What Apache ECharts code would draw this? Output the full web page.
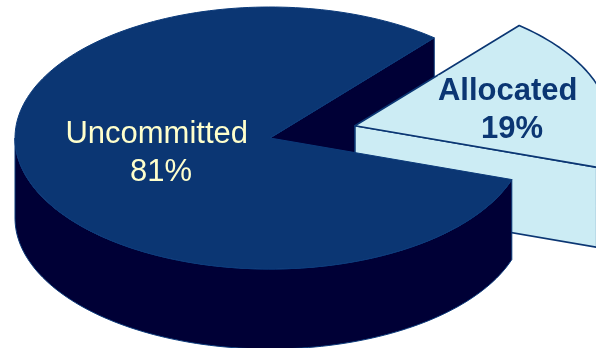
<!DOCTYPE html>
<html>
<head>
<meta charset="utf-8">
<script src="https://cdn.jsdelivr.net/npm/echarts@6/dist/echarts.min.js"></script>
<style>
  html, body { margin: 0; padding: 0; background: #ffffff; }
  #chart { width: 596px; height: 348px; }
</style>
</head>
<body>
<div id="chart"></div>
<script>
// Funding split
const categories = ['Uncommitted', 'Allocated'];
const values = [81, 19];

// Look of each slice (top face, side walls, outline, label)
const sliceStyles = [
  { top: '#0B3673', side: '#000036', edge: '#0B3A7A', edgeWidth: 1, text: '#FFFFCC', weight: 'normal',
    explode: 0, labelAt: 0.444, labelDy: 0, labelBg: null },
  { top: '#CCECF4', side: '#CCECF4', edge: '#0B3673', edgeWidth: 1.6, text: '#0B3673', weight: 'bold',
    explode: 0.346, labelAt: 0.64, labelDy: 7, labelBg: '#CCECF4' }
];

// Tilted pie: elliptical top face plus a vertical rim of the given depth
const pie = { cx: 270, cy: 138, rx: 255, ry: 131, depth: 80, startAngle: 18.5 };

const total = values.reduce((a, b) => a + b, 0);
const cumulative = values.map((_, i) => values.slice(0, i).reduce((a, b) => a + b, 0));
const rad = d => d * Math.PI / 180;

// Points along the rim ellipse between two angles (degrees, clockwise on screen)
function arcPoints(ox, oy, a0, a1, dz) {
  const n = Math.max(2, Math.ceil(Math.abs(a1 - a0) / 1.5));
  const pts = [];
  for (let k = 0; k <= n; k++) {
    const a = rad(a0 + (a1 - a0) * k / n);
    pts.push([ox + pie.rx * Math.cos(a), oy + pie.ry * Math.sin(a) + dz]);
  }
  return pts;
}

function renderSlice(params, api) {
  const i = params.dataIndex;
  const v = api.value(0);
  const before = api.value(1);
  const s = sliceStyles[i];
  const a0 = pie.startAngle + 360 * before / total;
  const a1 = a0 + 360 * v / total;
  const mid = (a0 + a1) / 2;
  const ox = pie.cx + s.explode * pie.rx * Math.cos(rad(mid));
  const oy = pie.cy + s.explode * pie.ry * Math.sin(rad(mid));
  const D = pie.depth;
  const edge = { stroke: s.edge, lineWidth: s.edgeWidth, lineJoin: 'round' };
  const children = [];

  // Cut faces that turn toward the viewer, drawn back to front
  [[a0, -1], [a1, 1]].forEach(([a, sgn]) => {
    if (sgn * Math.cos(rad(a)) > 0) {
      const rim = [ox + pie.rx * Math.cos(rad(a)), oy + pie.ry * Math.sin(rad(a))];
      children.push({
        type: 'polygon',
        z2: 100 + Math.round((oy + rim[1]) / 2),
        shape: { points: [[ox, oy], rim, [rim[0], rim[1] + D], [ox, oy + D]] },
        style: Object.assign({ fill: s.side }, edge)
      });
    }
  });

  // Outer rim wall on the front half of the ellipse
  for (let k = -1; k <= 2; k++) {
    const lo = Math.max(a0, 360 * k);
    const hi = Math.min(a1, 360 * k + 180);
    if (hi > lo) {
      const pts = arcPoints(ox, oy, lo, hi, 0).concat(arcPoints(ox, oy, hi, lo, D));
      children.push({
        type: 'polygon', z2: 1000,
        shape: { points: pts },
        style: Object.assign({ fill: s.side }, edge)
      });
    }
  }

  // Top face
  children.push({
    type: 'polygon', z2: 2000,
    shape: { points: [[ox, oy]].concat(arcPoints(ox, oy, a0, a1, 0)) },
    style: Object.assign({ fill: s.top }, edge)
  });

  // Category and percentage label
  const pct = Math.round(v / total * 100) + '%';
  const font = { fontSize: 31, fontFamily: 'Liberation Sans, Arial, sans-serif',
                 fontWeight: s.weight, fill: s.text, lineHeight: 38 };
  const tok = Object.assign({}, font, s.labelBg ? { backgroundColor: s.labelBg } : {});
  children.push({
    type: 'text', z2: 3000,
    x: ox + s.labelAt * pie.rx * Math.cos(rad(mid)),
    y: oy + s.labelAt * pie.ry * Math.sin(rad(mid)) + s.labelDy,
    style: Object.assign({
      text: '{t|' + api.value(2) + ' }\n{t|' + pct + '}',
      align: 'center', verticalAlign: 'middle',
      rich: { t: tok }
    }, font)
  });

  return { type: 'group', children };
}

const chart = echarts.init(document.getElementById('chart'), null, { renderer: 'canvas' });
chart.setOption({
  animation: false,
  series: [{
    type: 'custom',
    coordinateSystem: 'none',
    silent: true,
    renderItem: renderSlice,
    data: values.map((v, i) => ({ name: categories[i], value: [v, cumulative[i], categories[i]] }))
  }]
});
</script>
</body>
</html>
